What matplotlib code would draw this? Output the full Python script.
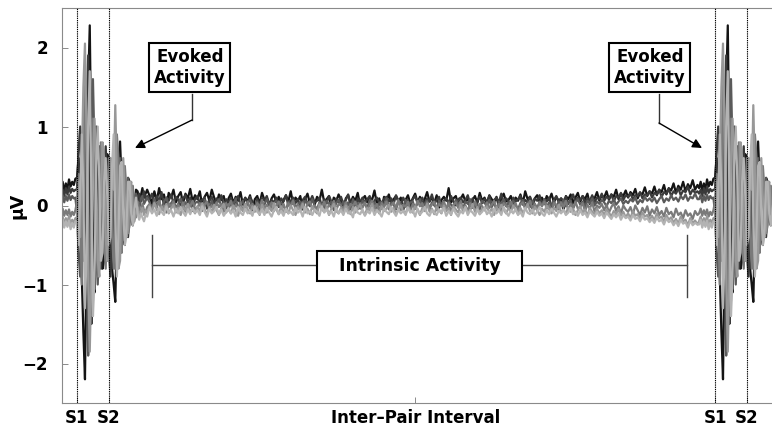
import numpy as np
import matplotlib
matplotlib.use("Agg")
import matplotlib.pyplot as plt
from matplotlib.patches import Rectangle

plt.rcParams['font.family'] = ['DejaVu Sans']

# ---------------- data (µV) ----------------
# evoked segment: t = -25 .. 110 ms relative to S1 (2.5 ms steps); reused for the second pair
burst_0 = [.22,.3,.18,.28,.2,.33,.24,.3,.26,.34,
           .35,.6,.2,-.9,-1.6,-2.2,-.6,1.5,2.28,.6,-1.0,-1.1,-.2,.7,.75,0,-.8,-.7,.1,.65,
           .5,-.3,-.8,-1.0,-1.22,-.3,.5,.81,.3,-.4,-.5,-.1,.35,.3,-.1,-.25,-.05,.2,.18,.05,.12,.22,.1,.15,.2]
burst_1 = [.15,.2,.12,.22,.14,.24,.16,.21,.18,.2,
           .2,.7,1.0,.3,-.7,-.3,1.1,1.9,.4,-1.5,-1.2,.1,1.0,.8,-.3,-.8,-.5,.4,.75,.2,
           -.6,-.9,-.2,.6,.7,-.1,-.7,-.6,.1,.5,.35,-.2,-.4,-.1,.25,.2,-.05,-.1,.1,.15,.05,.12,.18,.08,.12]
burst_2 = [.08,.13,.04,.12,.06,.14,.07,.12,.09,.1,
           -.1,-.6,-.9,-.2,1.2,1.3,-.2,-1.9,-1.3,.5,1.6,.7,-.6,-1.0,-.3,.6,.75,.1,-.6,-.7,
           .05,.6,.5,-.3,-.8,-.5,.3,.6,.2,-.4,-.45,.05,.35,.2,-.2,-.25,.05,.15,.05,-.05,.08,.12,.02,.06,.1]
burst_3 = [-.1,-.04,-.13,-.06,-.12,-.05,-.14,-.08,-.12,-.06,
           .05,.4,-.2,-1.0,.2,1.6,1.0,-.8,-1.4,-.2,1.1,.9,-.4,-.9,-.1,.8,.6,-.4,-.8,0,
           .6,.55,-.3,-.8,-.2,.9,.6,-.4,-.6,.1,.5,.2,-.35,-.25,.2,.25,-.1,-.15,.05,-.05,-.1,.02,-.06,-.08,-.02]
burst_4 = [-.2,-.14,-.24,-.16,-.22,-.13,-.25,-.18,-.22,-.16,
           -.15,.3,-.4,.5,1.5,2.05,.9,-.9,-1.85,-.9,.6,1.1,.4,-.7,-.9,0,.8,.6,-.4,-.7,
           .1,.6,.3,.2,1.27,.4,-.8,-.7,.3,.6,.1,-.4,-.3,.2,.3,-.05,-.2,-.1,-.02,-.12,-.08,-.03,-.12,-.06,-.1]
burst_5 = [-.24,-.18,-.28,-.2,-.27,-.19,-.3,-.22,-.28,-.2,
           -.2,-.5,.2,.9,.2,-1.3,-.6,1.0,1.7,.2,-1.4,-.9,.5,1.0,.3,-.7,-.6,.3,.6,.1,
           -.5,-.4,.5,.9,-.1,-.9,-.4,.5,.55,-.1,-.5,-.3,.3,.3,-.1,-.25,-.05,.1,-.1,-.18,-.1,-.15,-.2,-.12,-.14]

# intrinsic segment: t = 113.75 .. 972.5 ms (3.75 ms steps)
base_0 = [.12,.02,.18,.06,.22,.08,.14,-.02,.16,.1, .2,.04,.12,.17,.03,.15,.09,.21,.05,.13,
          .08,.18,.0,.11,.16,.06,.2,.1,.02,.14, .07,.12,-.04,.09,.15,.03,.11,.06,.17,.01,
          .1,.05,.13,-.06,.08,.12,.02,.16,.07,.1, .0,.09,.14,.04,.11,-.03,.07,.13,.05,.18,
          .02,.1,.06,.12,-.05,.08,.15,.03,.09,.01, .11,.06,.2,.04,.08,.12,-.02,.1,.05,.14,
          .07,-.08,.09,.13,.03,.11,.06,.16,.0,.08, .12,.04,.1,.07,.19,.02,.09,-.04,.11,.06,
          .14,.03,.08,.12,.05,.1,-.06,.07,.13,.02, .09,.15,.04,.11,.0,.08,.17,.05,.1,.03,
          .13,-.03,.07,.11,.06,.22,.04,.09,.12,.01, .08,.14,.05,.1,-.05,.07,.12,.03,.16,.06,
          .1,.02,.13,.08,.04,.11,-.02,.09,.15,.05, .07,.12,.0,.1,.06,.14,.03,.18,.08,.11,
          -.04,.09,.13,.05,.1,.02,.12,.07,.15,.04, .11,.06,.09,-.07,.12,.08,.14,.03,.1,.16,
          .05,.12,.08,.15,.02,.11,.09,.17,.06,.13, .1,.18,.07,.14,.11,.2,.08,.15,.12,.19,
          .1,.17,.13,.21,.09,.16,.14,.23,.12,.18, .15,.24,.13,.2,.17,.26,.14,.22,.19,.28,
          .16,.25,.2,.3,.18,.27,.22,.32,.2,.26]
base_1 = [.08,.15,.02,.12,.05,.17,.0,.1,.06,.14, .03,.11,.07,-.02,.09,.13,.04,.1,-.01,.08,
          .12,.03,.07,.1,-.04,.06,.11,.02,.09,.05, .13,.0,.08,.04,.1,-.03,.07,.12,.01,.06,
          .09,.03,.11,.05,-.05,.08,.02,.1,.06,.12, .01,.07,.04,.1,-.02,.09,.05,.13,.0,.06,
          .1,.03,.08,-.06,.07,.11,.02,.05,.12,.04, .06,.1,-.01,.08,.03,.12,.05,.0,.09,.04,
          .11,.02,.07,.14,.01,.06,-.04,.09,.05,.1, .03,.08,.12,.0,.06,.1,.04,-.03,.08,.11,
          .05,.09,.02,.13,.06,.0,.1,.04,.07,-.05, .08,.12,.03,.06,.1,.01,.09,.05,.14,.02,
          .07,.11,-.02,.06,.09,.03,.12,.05,.0,.08, .1,.04,.07,.13,.02,.09,-.04,.06,.11,.03,
          .08,.05,.12,.0,.07,.1,.04,.15,.02,.09, .06,-.03,.1,.05,.08,.12,.01,.07,.04,.11,
          .03,.09,.06,.13,.0,.08,.05,.1,-.02,.07, .12,.04,.09,.06,.11,.02,.08,.14,.05,.1,
          .07,.12,.03,.09,.06,.13,.04,.1,.08,.15, .06,.11,.09,.14,.05,.12,.1,.16,.07,.13,
          .11,.15,.08,.13,.12,.17,.09,.14,.13,.18, .1,.16,.14,.2,.11,.17,.15,.21,.12,.18,
          .15,.22,.13,.19,.17,.24,.14,.2,.16,.18]
base_2 = [.04,-.04,.08,.0,.06,-.06,.05,.1,-.02,.03, .07,-.03,.02,.09,-.05,.04,.0,.06,-.07,.03,
          .05,.01,-.04,.07,.02,-.02,.06,-.05,.03,.08, -.01,.04,.0,-.06,.05,.02,.09,-.03,.01,.06,
          -.04,.03,.07,.0,-.02,.05,-.06,.04,.01,.08, .02,-.05,.03,.06,-.01,.04,.0,-.07,.05,.02,
          .07,-.02,.01,.05,-.04,.06,.03,-.01,.08,.0, -.05,.04,.02,-.03,.06,.01,.05,-.06,.03,.07,
          .0,.05,-.02,.04,-.05,.08,.01,.03,-.04,.06, .02,-.03,.07,.0,.04,-.06,.03,.05,-.01,.09,
          -.02,.04,.01,-.05,.06,.02,-.03,.07,.0,.04, .05,-.04,.03,.08,-.01,.02,.06,-.05,.04,.0,
          -.03,.06,.02,.04,-.06,.05,.01,-.02,.07,.03, .0,-.04,.05,.02,.08,-.03,.04,.01,-.05,.06,
          .03,.0,.07,-.02,.04,-.06,.05,.02,.08,-.01, .04,-.03,.06,.01,-.05,.03,.07,.0,.04,-.02,
          .06,.02,-.04,.05,.01,.08,-.02,.04,.0,.06, -.03,.05,.02,.07,-.01,.04,.06,-.04,.03,.08,
          .01,.05,-.02,.06,.03,.09,.0,.05,.02,.07, .04,-.01,.06,.03,.08,.01,.05,.09,.02,.06,
          .03,.08,.05,.1,.02,.07,.04,.11,.06,.09, .05,.1,.03,.08,.12,.04,.09,.06,.13,.07,
          .1,.05,.12,.08,.14,.06,.11,.09,.15,.08]
base_3 = [.02,-.07,.04,-.03,.06,-.05,.0,-.09,.03,-.02, .05,-.06,.01,-.04,.04,-.08,.02,-.01,.06,-.05,
          -.02,.03,-.07,.01,.05,-.04,.0,-.06,.04,-.02, .02,-.08,.03,-.01,.06,-.05,.01,-.03,.04,-.07,
          .0,.05,-.04,.02,-.06,.03,-.02,.07,-.05,.01, -.03,.04,-.07,.0,.05,-.04,.02,-.08,.03,-.01,
          .06,-.05,.01,-.03,.04,-.06,.02,.05,-.04,.0, -.07,.03,-.02,.05,-.05,.01,-.03,.06,-.06,.02,
          .0,-.04,.04,-.08,.02,-.01,.05,-.05,.03,-.03, .04,-.06,.01,.06,-.04,.02,-.07,.03,-.02,.05,
          -.05,.0,.04,-.03,.07,-.06,.01,-.02,.05,-.08, .02,-.04,.06,-.01,.03,-.07,.04,-.03,.01,.05,
          -.06,.02,-.02,.05,-.05,.03,-.08,.01,.04,-.03, .06,-.04,.0,-.07,.03,-.02,.05,-.05,.02,-.01,
          -.06,.04,-.03,.01,.06,-.05,.02,-.08,.03,.0, -.04,.05,-.02,.03,-.07,.01,.04,-.05,.0,.06,
          -.03,.02,-.06,.04,-.01,.05,-.04,.0,-.07,.03, .01,-.05,.04,-.02,.06,-.06,.02,-.03,.05,-.04,
          -.02,.03,-.07,.01,-.04,.04,-.08,.0,-.03,.02, -.06,.01,-.09,-.02,.03,-.07,-.01,-.1,.0,-.05,
          -.08,-.02,-.11,.0,-.06,-.12,-.03,-.09,-.01,-.13, -.05,-.1,-.02,-.12,-.07,-.14,-.03,-.11,-.08,-.15,
          -.04,-.12,-.09,-.16,-.06,-.13,-.1,-.17,-.07,-.12]
base_4 = [.0,-.08,.03,-.05,-.11,-.01,-.07,.02,-.1,-.04, .01,-.09,-.03,-.12,-.02,-.06,.02,-.08,-.04,-.1,
          -.01,-.07,.03,-.05,-.11,-.02,-.08,.01,-.06,-.12, -.03,.02,-.09,-.04,-.1,.0,-.06,-.13,-.02,-.07,
          .02,-.05,-.1,-.01,-.08,-.03,-.12,.01,-.06,-.09, -.02,-.07,.03,-.05,-.11,-.01,-.08,-.04,-.1,.0,
          -.06,-.12,-.02,-.07,.02,-.09,-.04,-.11,-.01,-.06, -.1,.01,-.05,-.08,-.02,-.12,-.04,.02,-.07,-.1,
          -.03,-.08,.0,-.06,-.11,-.02,-.09,-.04,.01,-.07, -.12,-.03,-.06,.02,-.09,-.05,-.1,-.01,-.07,-.04,
          .01,-.08,-.03,-.11,-.05,.0,-.07,-.1,-.02,-.06, -.09,-.01,-.05,-.12,-.03,-.07,.02,-.08,-.04,-.11,
          -.02,-.06,-.1,.0,-.07,-.04,-.12,-.01,-.05,-.09, .01,-.07,-.03,-.1,-.05,.02,-.08,-.02,-.11,-.04,
          -.06,-.01,-.09,-.04,-.12,-.02,-.07,.01,-.05,-.1, -.03,-.08,.0,-.06,-.11,-.03,-.09,-.05,.02,-.07,
          -.1,-.02,-.06,-.12,-.04,-.08,.0,-.05,-.1,-.03, -.07,.01,-.09,-.05,-.11,-.02,-.08,-.04,-.12,-.06,
          -.01,-.09,-.05,-.13,-.03,-.08,-.11,-.04,-.1,-.06, -.12,-.05,-.09,-.14,-.07,-.11,-.04,-.13,-.08,-.15,
          -.1,-.16,-.07,-.13,-.11,-.17,-.09,-.14,-.12,-.18, -.13,-.19,-.1,-.16,-.14,-.21,-.12,-.18,-.15,-.22,
          -.17,-.23,-.14,-.2,-.18,-.25,-.16,-.22,-.19,-.24]
base_5 = [-.02,-.1,-.05,-.13,-.03,-.08,-.12,-.01,-.09,-.06, -.14,-.04,-.1,-.02,-.08,-.13,-.05,-.11,-.03,-.09,
          -.06,-.12,-.01,-.08,-.14,-.04,-.1,-.07,-.02,-.11, -.05,-.13,-.08,-.03,-.1,-.06,-.14,-.02,-.09,-.12,
          -.04,-.1,-.07,-.13,-.01,-.08,-.11,-.05,-.12,-.03, -.09,-.14,-.06,-.02,-.11,-.07,-.13,-.04,-.1,-.08,
          -.12,-.03,-.09,-.06,-.14,-.02,-.1,-.07,-.12,-.05, -.08,-.13,-.01,-.09,-.05,-.11,-.07,-.14,-.03,-.1,
          -.06,-.12,-.04,-.1,-.08,-.15,-.02,-.09,-.11,-.05, -.13,-.07,-.1,-.03,-.12,-.06,-.09,-.14,-.04,-.08,
          -.11,-.02,-.08,-.13,-.05,-.1,-.07,-.12,-.03,-.09, -.06,-.14,-.04,-.11,-.08,-.02,-.1,-.13,-.06,-.09,
          -.12,-.05,-.09,-.03,-.13,-.07,-.11,-.04,-.1,-.14, -.07,-.1,-.02,-.12,-.06,-.09,-.13,-.05,-.11,-.08,
          -.03,-.11,-.07,-.14,-.04,-.1,-.06,-.12,-.02,-.09, -.13,-.06,-.1,-.04,-.12,-.08,-.14,-.03,-.09,-.11,
          -.05,-.12,-.08,-.02,-.1,-.13,-.06,-.11,-.04,-.09, -.14,-.07,-.1,-.05,-.12,-.09,-.03,-.11,-.08,-.13,
          -.06,-.12,-.09,-.15,-.07,-.11,-.14,-.08,-.13,-.1, -.16,-.09,-.13,-.17,-.11,-.15,-.1,-.18,-.12,-.16,
          -.14,-.19,-.12,-.17,-.15,-.2,-.13,-.18,-.16,-.21, -.17,-.22,-.15,-.2,-.18,-.24,-.16,-.21,-.19,-.25,
          -.2,-.26,-.18,-.23,-.21,-.28,-.19,-.25,-.22,-.24]

bursts = [burst_0, burst_1, burst_2, burst_3, burst_4, burst_5]
bases = [base_0, base_1, base_2, base_3, base_4, base_5]

stim_times = [0, 50, 1000, 1050]          # ms: S1, S2, S1, S2
pair_period = 1000
tick_pos = [0, 50, 530, 1000, 1050]
tick_labels = ["S1", "S2", "Inter\u2013Pair Interval", "S1", "S2"]

colors = ['#141414', '#3a3a3a', '#5a5a5a', '#7a7a7a', '#989898', '#b3b3b3']

# ---------------- figure ----------------
W, H = 772, 433
fig = plt.figure(figsize=(W / 100, H / 100), dpi=100)
ax = fig.add_axes([62 / W, 30 / H, (W - 62) / W, (403 - 8) / H])

for b, s, c in zip(bursts, bases, colors):
    tb = np.linspace(-25, 110, len(b))
    ts = np.linspace(113.75, 972.5, len(s))
    t = np.concatenate([tb, ts, tb + pair_period])
    v = np.concatenate([b, s, b])
    ax.plot(t, v, color=c, lw=1.6, solid_joinstyle='round')

for st in stim_times:
    ax.axvline(st, color='k', lw=0.8, ls=(0, (1.2, 0.8)), zorder=5)

ax.set_xlim(-23.5, 1089.3)
ax.set_ylim(-2.5, 2.5)
ax.set_yticks([-2, -1, 0, 1, 2])
ax.set_yticklabels(["\u22122", "\u22121", "0", "1", "2"])
ax.set_xticks(tick_pos)
ax.set_xticklabels(tick_labels)
ax.tick_params(direction='in', length=4, width=0.6, color='#777777', labelsize=12)
ax.tick_params(axis='x', pad=4)
ax.tick_params(axis='y', pad=10)
for lab in ax.get_xticklabels() + ax.get_yticklabels():
    lab.set_fontweight('bold')
for sp in ['left', 'bottom', 'top']:
    ax.spines[sp].set_color('#8a8a8a')
    ax.spines[sp].set_linewidth(0.8)
ax.spines['right'].set_visible(False)
ax.set_ylabel("\u00b5V", fontsize=12.5, fontweight='bold', labelpad=-3)

box = dict(boxstyle='square,pad=0.28', fc='white', ec='black', lw=1.5)
# Evoked Activity (left)
ax.text(177, 1.745, "Evoked\nActivity", ha='center', va='center', fontsize=12,
        fontweight='bold', linespacing=1.25, bbox=box, zorder=10)
ax.plot([180.3, 180.3], [1.41, 1.082], color='#333333', lw=1.0)
ax.annotate("", xy=(90.9, 0.728), xytext=(180.3, 1.082),
            arrowprops=dict(arrowstyle='-|>', color='black', lw=1.0,
                            mutation_scale=14, shrinkA=0, shrinkB=0))
# Evoked Activity (right)
ax.text(898, 1.745, "Evoked\nActivity", ha='center', va='center', fontsize=12,
        fontweight='bold', linespacing=1.25, bbox=box, zorder=10)
ax.plot([912.2, 912.2], [1.41, 1.044], color='#333333', lw=1.0)
ax.annotate("", xy=(979.6, 0.728), xytext=(912.2, 1.044),
            arrowprops=dict(arrowstyle='-|>', color='black', lw=1.0,
                            mutation_scale=14, shrinkA=0, shrinkB=0))
# Intrinsic Activity
ax.plot([117.6, 956.1], [-0.753, -0.753], color='#444444', lw=1.0)
ax.plot([117.6, 117.6], [-0.373, -1.158], color='#444444', lw=1.0)
ax.plot([956.1, 956.1], [-0.373, -1.158], color='#444444', lw=1.0)
ax.add_patch(Rectangle((376.2, -0.956), 697.5 - 376.2, 0.38, fc='white', ec='black',
                       lw=1.5, zorder=9))
ax.text(536.8, -0.77, "Intrinsic Activity", ha='center', va='center', fontsize=12.5,
        fontweight='bold', zorder=10)

fig.savefig("out.png", dpi=100)
